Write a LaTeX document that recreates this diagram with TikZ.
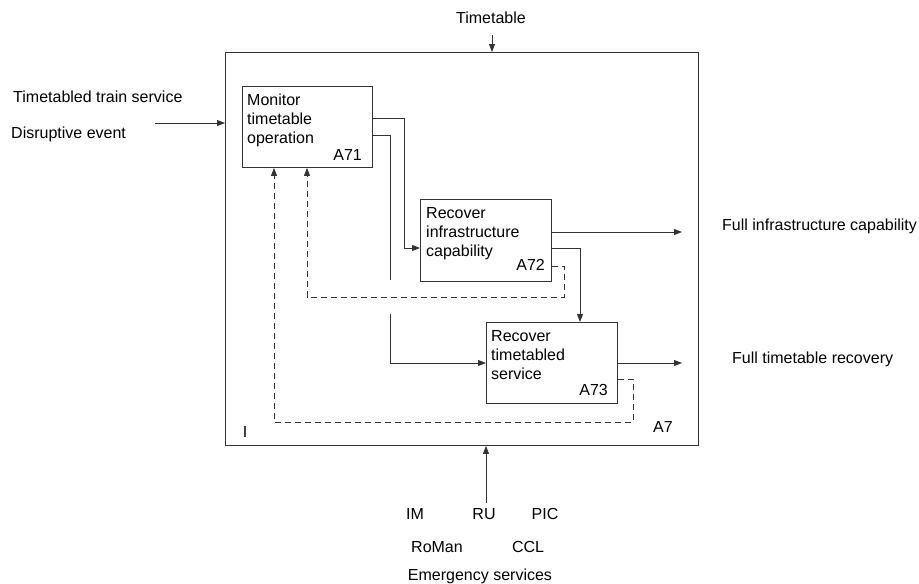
\documentclass[tikz,border=0pt]{standalone}
\usepackage{fontspec}
\setmainfont{Liberation Sans}
\usetikzlibrary{arrows.meta}

\begin{document}
\begin{tikzpicture}[x=1pt,y=-1pt,
  every node/.style={inner sep=0pt, font=\fontsize{16}{19}\selectfont},
  actbox/.style={draw=black!80, line width=0.9pt, anchor=north west},
  boxtext/.style={anchor=north west, align=left},
  lbl/.style={anchor=base},
  wire/.style={draw=black!80, line width=0.9pt},
  arr/.style={wire, -{Triangle[length=8pt,width=6pt]}},
  fb/.style={arr, dash pattern=on 6pt off 4pt}]
  \useasboundingbox (0,0) rectangle (919,584);

  % context box A7
  \node[actbox, minimum width=473pt, minimum height=393pt] (outer) at (225,52) {};
  \node[lbl] (ilabel) at (245,437.8) {I};
  \node[lbl, anchor=base east] (a7) at (673,432.8) {A7};

  % activity boxes
  \node[actbox, minimum width=130pt, minimum height=81pt] (a71) at (242,86) {};
  \node[boxtext] (t71) at (247,93.5) {Monitor\\timetable\\operation};
  \node[lbl, anchor=base east] (n71) at (362,160.8) {A71};

  \node[actbox, minimum width=131pt, minimum height=82pt] (a72) at (420,199) {};
  \node[boxtext] (t72) at (426,207.3) {Recover\\infrastructure\\capability};
  \node[lbl, anchor=base east] (n72) at (545,270.8) {A72};

  \node[actbox, minimum width=131pt, minimum height=81pt] (a73) at (486,322) {};
  \node[boxtext] (t73) at (491,330.3) {Recover\\timetabled\\service};
  \node[lbl, anchor=base east] (n73) at (608,395.8) {A73};

  % boundary labels
  \node[lbl] (ttl) at (491,23.8) {Timetable};
  \node[lbl, anchor=base west] (inl1) at (13,102.8) {Timetabled train service};
  \node[lbl, anchor=base west] (inl2) at (11,138.8) {Disruptive event};
  \node[lbl, anchor=base west] (outl1) at (722,230.8) {Full infrastructure capability};
  \node[lbl, anchor=base west] (outl2) at (732,363.8) {Full timetable recovery};
  \node[lbl] (m1) at (415,519.8) {IM};
  \node[lbl] (m2) at (484,519.8) {RU};
  \node[lbl] (m3) at (545,519.8) {PIC};
  \node[lbl] (m4) at (437,552.8) {RoMan};
  \node[lbl] (m5) at (528,552.8) {CCL};
  \node[lbl] (m6) at (480,580.8) {Emergency services};

  % free ends and routing rows
  \coordinate (ctl) at (492,35);
  \coordinate (inp) at (155,123);
  \coordinate (mech) at (486,503);
  \coordinate (outA) at (682,232);
  \coordinate (outB) at (682,363);
  \coordinate (r118) at (404,118);
  \coordinate (r135) at (390,135);
  \coordinate (stub) at (390,280);
  \coordinate (lowin) at (390,314);
  \coordinate (r248) at (580,248);
  \coordinate (fb72) at (564,266);
  \coordinate (fb72b) at (307,297);
  \coordinate (fb73) at (633,379);
  \coordinate (fb73b) at (274,422);

  % control, input, mechanism
  \draw[arr] (ctl) -- (ctl |- outer.north);
  \draw[arr] (inp) -- (inp -| outer.west);
  \draw[arr] (mech) -- (mech |- outer.south);

  % A71 outputs
  \draw[arr] (a71.east |- r118) -- (r118) |- (a72.west |- 0,248);
  \draw[wire] (a71.east |- r135) -| (stub);
  \draw[arr] (lowin) |- (a73.west |- 0,363);

  % A72 outputs
  \draw[arr] (a72.east |- outA) -- (outA);
  \draw[arr] (a72.east |- r248) -| (r248 |- a73.north);
  \draw[fb] (a72.east |- fb72) -| (fb72 |- fb72b) -| (fb72b |- a71.south);

  % A73 outputs
  \draw[arr] (a73.east |- outB) -- (outB);
  \draw[fb] (a73.east |- fb73) -| (fb73 |- fb73b) -| (fb73b |- a71.south);
\end{tikzpicture}
\end{document}
